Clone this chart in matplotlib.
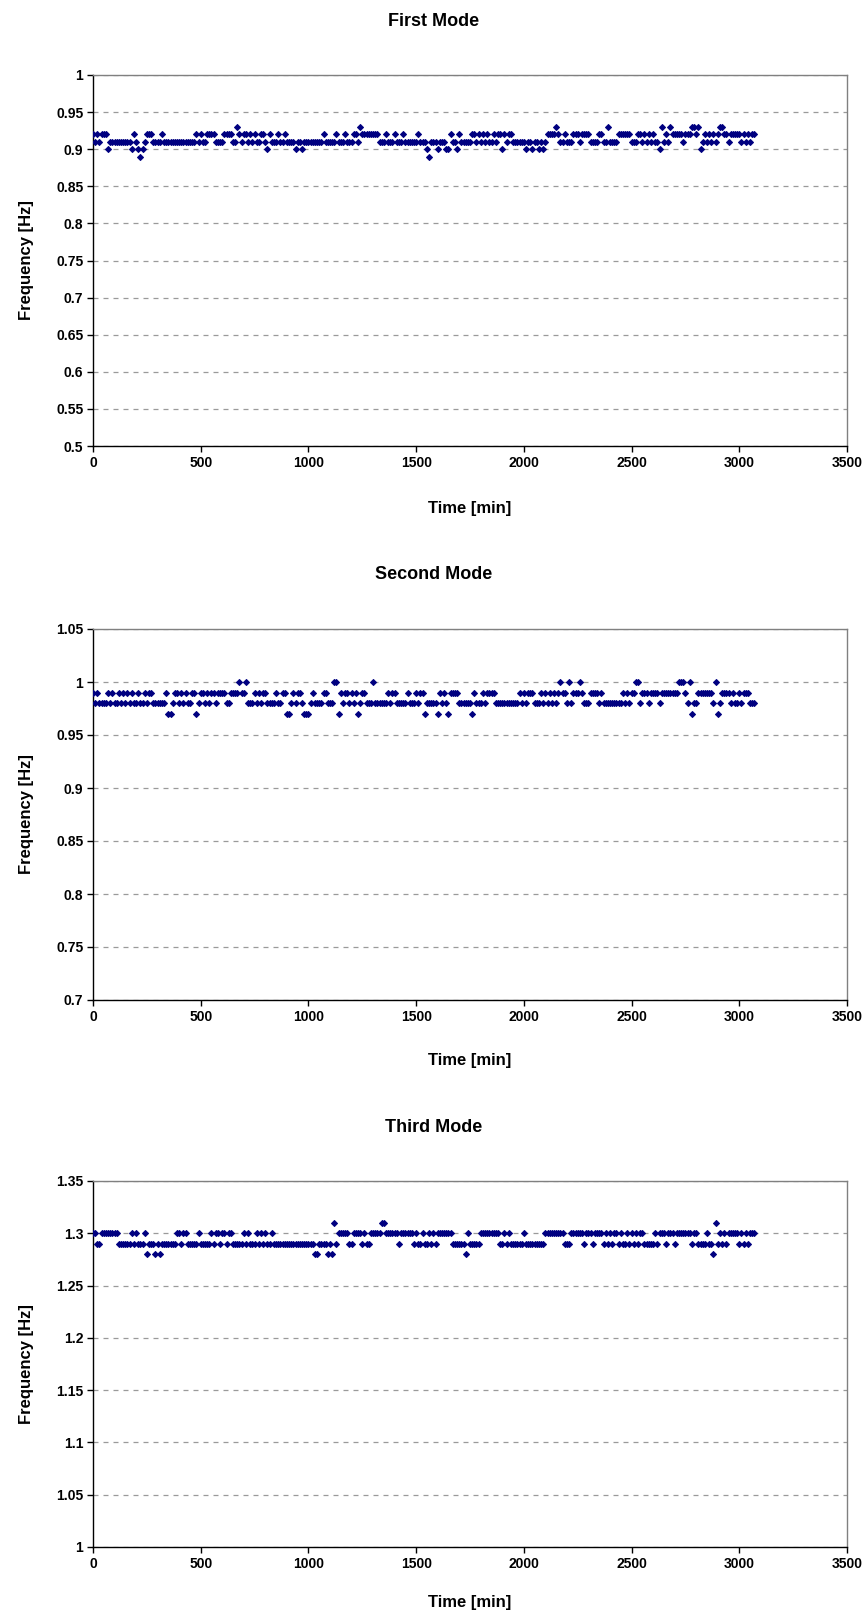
"""Modal frequency tracking: three stacked scatter panels (Excel-style)."""

import matplotlib

matplotlib.use("Agg")
import matplotlib.pyplot as plt
import numpy as np
from matplotlib.ticker import FuncFormatter, MultipleLocator

plt.rcParams["font.family"] = ["Liberation Sans", "DejaVu Sans"]
plt.rcParams["font.weight"] = "bold"

SAMPLE_STEP_MIN = 10  # one reading every 10 minutes

# Each digit is one reading: frequency = base + digit * 0.01 Hz
FIRST_MODE_BASE = 0.89
FIRST_MODE_CODES = (
    "3232" "333" "1" "2222222222" "1321012" "333" "2222" "3"
    "222222222222222" "32322" "3333" "2222" "3333" "22432" "332323223"
    "321" "32223" "223" "2222" "1221" "222222222" "3" "22222" "3" "222"
    "3" "222" "3324" "33333333" "2223" "2223" "2223" "222222" "3" "22210"
    "2221" "22211" "32213" "22222" "3323232322" "3233132332" "22222"
    "1221221212" "3333" "43" "223" "222" "333" "2" "3333" "2222" "33224"
    "2222" "333333" "222" "33" "23232322142324" "33333" "2" "333"
    "443412323232344332" "33333" "2323233"
)

SECOND_MODE_BASE = 0.97
SECOND_MODE_CODES = (
    "2121111212" "1121212121" "1211212211" "1111200122" "1212112201"
    "2212122122" "2211222232" "231112121"
    "2211112112" "2001212210" "0012111122" "1113302122" "1212012211"
    "1311111121" "2211111211" "12122011"
    "1110212102" "2221111110" "2111212222" "1111111111" "1212122211"
    "1212121212" "3221312223" "211122221"
    "2111111111" "2121223312" "2212222122" "2222223332" "1301122222"
    "2213012222" "1211212221" "11"
)

THIRD_MODE_BASE = 1.28
THIRD_MODE_CODES = (
    "2211222222" "2211111121" "2111201110" "1011111112" "2122111112"
    "1111121221" "2212211111" "212111212"
    "1211211111" "1111111111" "1111001111" "0103122222" "1122221211"
    "2222233222" "2221222222" "12112112"
    "1212222222" "1111110211" "1112222222" "2211212111" "1112111111"
    "1112222222" "2211122222" "212221222"
    "2121212212" "1121212122" "1111121222" "1222122222" "2212211112"
    "1103121212" "2222121212" "22"
)

PANELS = [
    ("First Mode", FIRST_MODE_BASE, FIRST_MODE_CODES, (0.5, 1.0)),
    ("Second Mode", SECOND_MODE_BASE, SECOND_MODE_CODES, (0.7, 1.05)),
    ("Third Mode", THIRD_MODE_BASE, THIRD_MODE_CODES, (1.0, 1.35)),
]

X_TICKS = [0, 500, 1000, 1500, 2000, 2500, 3000, 3500]

FIG_W, FIG_H = 868, 1616
# plot-area boxes in pixels: (left, top, right, bottom)
BOXES = [
    (93, 75, 847, 446),
    (93, 629, 847, 1000),
    (93, 1181, 847, 1547),
]
TITLE_Y = [21, 575, 1128]
XLABEL_Y = [508, 1061, 1603]

MARKER_COLOR = "#000080"
GRID_COLOR = "#9a9a9a"


def decode(base, codes):
    values = np.array([base + int(c) * 0.01 for c in codes])
    times = np.arange(len(values)) * SAMPLE_STEP_MIN
    return times, values


fig = plt.figure(figsize=(FIG_W / 100, FIG_H / 100), dpi=100)

for (title, base, codes, ylim), box, ty, xy in zip(PANELS, BOXES, TITLE_Y, XLABEL_Y):
    left, top, right, bottom = box
    ax = fig.add_axes(
        [left / FIG_W, 1 - bottom / FIG_H, (right - left) / FIG_W, (bottom - top) / FIG_H]
    )
    times, values = decode(base, codes)
    ax.plot(
        times,
        values,
        linestyle="none",
        marker="D",
        markersize=3.1,
        color=MARKER_COLOR,
        markeredgecolor=MARKER_COLOR,
        markeredgewidth=0.7,
        zorder=3,
    )
    ax.set_xlim(0, 3500)
    ax.set_ylim(*ylim)
    ax.set_xticks(X_TICKS)
    ax.yaxis.set_major_locator(MultipleLocator(0.05))
    ax.yaxis.set_major_formatter(FuncFormatter(lambda v, _: f"{round(v, 2):g}"))
    ax.grid(axis="y", color=GRID_COLOR, linestyle=(0, (4, 4)), linewidth=0.9)
    ax.set_axisbelow(True)
    ax.tick_params(direction="out", length=4, width=1, labelsize=10, pad=3)
    for lab in ax.get_xticklabels() + ax.get_yticklabels():
        lab.set_fontweight("bold")
    for side in ("top", "right"):
        ax.spines[side].set_color("#808080")
        ax.spines[side].set_linewidth(1.0)
    for side in ("left", "bottom"):
        ax.spines[side].set_color("black")
        ax.spines[side].set_linewidth(1.0)

    fig.text(0.5, 1 - ty / FIG_H, title, ha="center", va="center",
             fontsize=13, fontweight="bold")
    fig.text((left + right) / 2 / FIG_W, 1 - xy / FIG_H, "Time [min]",
             ha="center", va="center", fontsize=12, fontweight="bold")
    fig.text(26 / FIG_W, 1 - (top + bottom) / 2 / FIG_H, "Frequency [Hz]",
             ha="center", va="center", rotation=90, fontsize=12, fontweight="bold")

fig.savefig("out.png", dpi=100)
plt.close(fig)
